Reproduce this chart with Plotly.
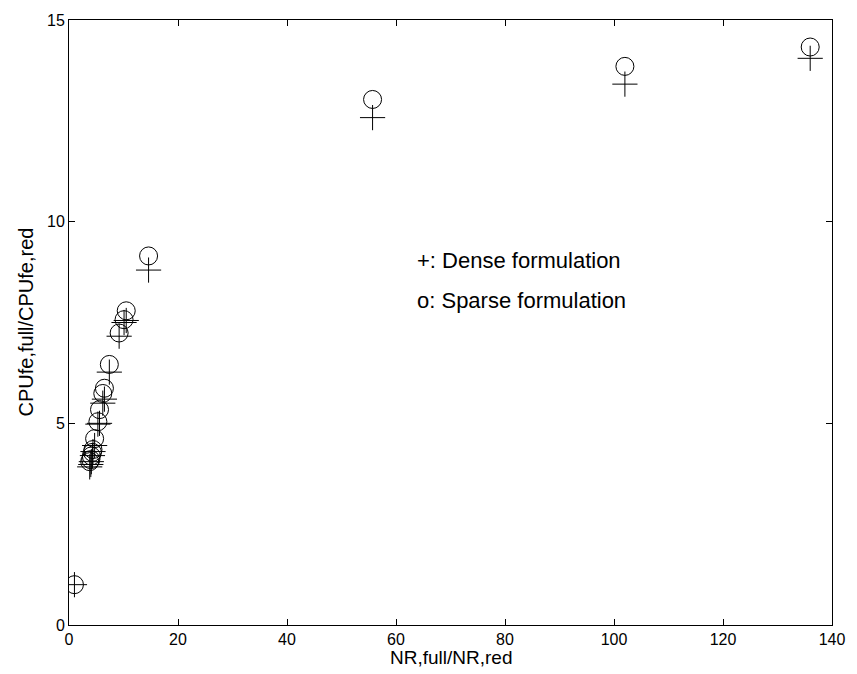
import plotly.graph_objects as go

nr_ratio = [1, 3.8, 4.0, 4.1, 4.3, 4.4, 4.7, 5.3, 5.6, 6.2, 6.5, 7.4, 9.2, 10.1, 10.5, 14.6, 55.7, 102, 136]
dense = [1.0, 3.92, 3.98, 4.05, 4.2, 4.3, 4.45, 4.98, 5.0, 5.5, 5.6, 6.27, 7.16, 7.5, 7.55, 8.80, 12.58, 13.41, 14.05]
sparse = [1.0, 4.05, 4.1, 4.19, 4.28, 4.35, 4.62, 5.04, 5.34, 5.74, 5.87, 6.46, 7.24, 7.57, 7.79, 9.15, 13.03, 13.85, 14.33]
x_ticks = [0, 20, 40, 60, 80, 100, 120, 140]
y_ticks = [0, 5, 10, 15]

font = "Liberation Sans, Arial, Helvetica, sans-serif"

fig = go.Figure()
fig.add_trace(go.Scatter(x=nr_ratio, y=dense, mode="markers",
                         marker=dict(symbol="cross-thin-open", size=18, color="black",
                                     line=dict(color="black", width=1)),
                         showlegend=False, hoverinfo="skip"))
fig.add_trace(go.Scatter(x=nr_ratio, y=sparse, mode="markers",
                         marker=dict(symbol="circle-open", size=18, color="black",
                                     line=dict(color="black", width=1)),
                         showlegend=False, hoverinfo="skip"))

fig.add_annotation(x=63.5, y=9.03, text="+: Dense formulation", showarrow=False,
                   xanchor="left", yanchor="middle", font=dict(size=22, color="black", family=font))
fig.add_annotation(x=63.5, y=8.05, text="o: Sparse formulation", showarrow=False,
                   xanchor="left", yanchor="middle", font=dict(size=22, color="black", family=font))

# axis titles as annotations so they stay inside the page
fig.add_annotation(x=0.5, y=0, xref="paper", yref="paper", text="NR,full/NR,red",
                   showarrow=False, xanchor="center", yanchor="top", yshift=-20,
                   font=dict(size=19, color="black", family=font))
fig.add_annotation(x=0, y=0.5, xref="paper", yref="paper", text="CPUfe,full/CPUfe,red",
                   showarrow=False, xanchor="center", yanchor="middle", xshift=-44, textangle=-90,
                   font=dict(size=20, color="black", family=font))

axis_common = dict(showline=True, linecolor="black", linewidth=1, mirror="ticks",
                   ticks="inside", ticklen=6, tickcolor="black", showgrid=False,
                   zeroline=False, tickfont=dict(size=16, color="black", family=font))

fig.update_xaxes(range=[0, 140], tickvals=x_ticks, ticktext=[str(v) for v in x_ticks], **axis_common)
fig.update_yaxes(range=[0, 15], tickvals=y_ticks, ticktext=[str(v) for v in y_ticks], **axis_common)

fig.update_layout(width=857, height=674, plot_bgcolor="white", paper_bgcolor="white",
                  margin=dict(l=69, r=15, t=17, b=49), font=dict(family=font))

fig.write_html("out.html", config={"displayModeBar": False},
               post_script="document.body.style.margin='0';")
